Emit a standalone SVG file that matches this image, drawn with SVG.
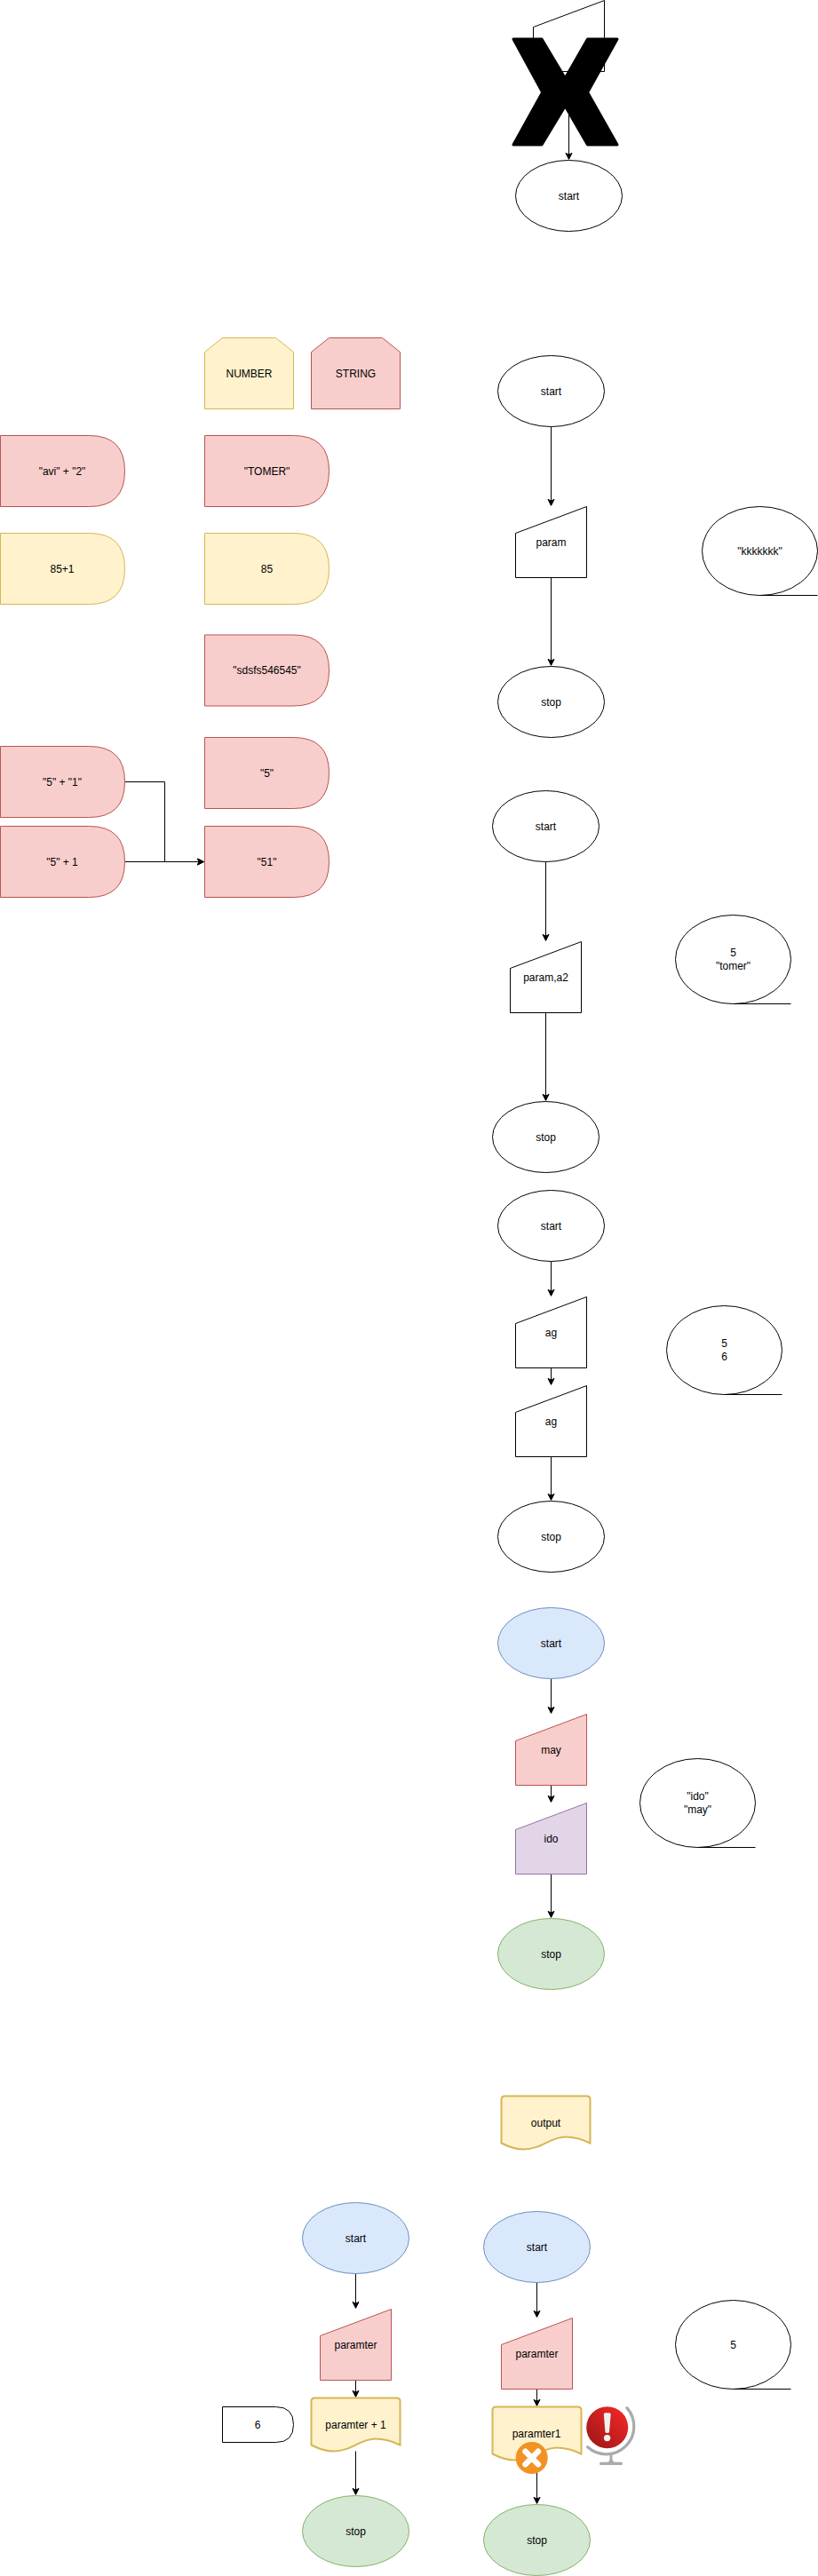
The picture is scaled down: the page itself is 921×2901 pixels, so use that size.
<svg xmlns="http://www.w3.org/2000/svg" width="921" height="2901" viewBox="0 0 921 2901">
<style>
text{font-family:"Liberation Sans",Arial,sans-serif;font-size:12px;fill:#000;text-anchor:middle}
.p{fill:#fff;stroke:#000;stroke-width:1}
.n{fill:none;stroke:#000;stroke-width:1}
.b{fill:#dae8fc;stroke:#6c8ebf;stroke-width:1}
.r{fill:#f8cecc;stroke:#b85450;stroke-width:1}
.y{fill:#fff2cc;stroke:#d6b656;stroke-width:1}
.g{fill:#d5e8d4;stroke:#82b366;stroke-width:1}
.v{fill:#e1d5e7;stroke:#9673a6;stroke-width:1}
.d{fill:#fff2cc;stroke:#d6b656;stroke-width:2}
.e{fill:none;stroke:#000;stroke-width:1;marker-end:url(#arr)}
</style>
<defs>
<marker id="arr" markerUnits="userSpaceOnUse" markerWidth="12" markerHeight="12" viewBox="-4 -6 12 12" refX="0" refY="0" orient="auto" overflow="visible">
<path d="M5.25 0L-1.75 3.5L0 0L-1.75-3.5Z" fill="#000" stroke="#000" stroke-width="1"/>
</marker>
<linearGradient id="red" x1="0.15" y1="0.85" x2="0.85" y2="0.15">
<stop offset="0" stop-color="#a81818"/><stop offset="1" stop-color="#ea2626"/>
</linearGradient>
</defs>
<g id="connectors">
<path class="e" d="M640.5 80.5V174.13"/>
<path class="e" d="M620.5 480.5V564.13"/>
<path class="e" d="M620.5 650.5V744.13"/>
<path class="e" d="M614.5 970.5V1054.13"/>
<path class="e" d="M614.5 1140.5V1234.13"/>
<path class="e" d="M620.5 1420.5V1454.13"/>
<path class="e" d="M620.5 1540.5V1554.13"/>
<path class="e" d="M620.5 1640.5V1684.13"/>
<path class="e" d="M620.5 1890.5V1924.13"/>
<path class="e" d="M620.5 2010.5V2024.13"/>
<path class="e" d="M620.5 2110.5V2154.13"/>
<path class="e" d="M400.5 2560.5V2594.13"/>
<path class="e" d="M400.5 2680.5V2694.13"/>
<path class="e" d="M400.5 2760.5V2804.13"/>
<path class="e" d="M604.5 2570.5V2604.13"/>
<path class="e" d="M604.5 2690.5V2704.13"/>
<path class="e" d="M604.5 2770.5V2814.13"/>
<path class="e" d="M140.5 880.5H185.5V970.5H224.13"/>
<path class="e" d="M140.5 970.5H224.13"/>
</g>
<g id="top-input"><path class="p" d="M600.5 30.5L680.5 .5V80.5H600.5Z"/></g>
<g id="x-mark"><path d="M578 44H610L636.3 88L661.5 44H695L661.6 104L695 163H661.5L636.3 119.5L610 163H578L610.7 104Z" fill="#000" stroke="#000" stroke-width="3" stroke-linejoin="round"/></g>
<g id="top-start"><ellipse class="p" cx="640.5" cy="220.5" rx="60" ry="40"/><text x="640.5" y="224.5">start</text></g>

<g id="number"><path class="y" d="M230.5 396.5L250.5 380.5H310.5L330.5 396.5V460.5H230.5Z"/><text x="280.5" y="424.5">NUMBER</text></g>
<g id="string"><path class="r" d="M350.5 396.5L370.5 380.5H430.5L450.5 396.5V460.5H350.5Z"/><text x="400.5" y="424.5">STRING</text></g>
<g id="avi"><path class="r" d="M.5 490.5H100.5Q140.5 490.5 140.5 530.5Q140.5 570.5 100.5 570.5H.5Z"/><text x="70" y="534.5">"avi" + "2"</text></g>
<g id="tomer"><path class="r" d="M230.5 490.5H330.5Q370.5 490.5 370.5 530.5Q370.5 570.5 330.5 570.5H230.5Z"/><text x="300.5" y="534.5">"TOMER"</text></g>
<g id="n85p1"><path class="y" d="M.5 600.5H100.5Q140.5 600.5 140.5 640.5Q140.5 680.5 100.5 680.5H.5Z"/><text x="70" y="644.5">85+1</text></g>
<g id="n85"><path class="y" d="M230.5 600.5H330.5Q370.5 600.5 370.5 640.5Q370.5 680.5 330.5 680.5H230.5Z"/><text x="300.5" y="644.5">85</text></g>
<g id="sdsfs"><path class="r" d="M230.5 715H330.5Q370.5 715 370.5 755Q370.5 795 330.5 795H230.5Z"/><text x="300.5" y="759">"sdsfs546545"</text></g>
<g id="s5"><path class="r" d="M230.5 830.5H330.5Q370.5 830.5 370.5 870.5Q370.5 910.5 330.5 910.5H230.5Z"/><text x="300.5" y="874.5">"5"</text></g>
<g id="s51"><path class="r" d="M230.5 930.5H330.5Q370.5 930.5 370.5 970.5Q370.5 1010.5 330.5 1010.5H230.5Z"/><text x="300.5" y="974.5">"51"</text></g>
<g id="s5s1"><path class="r" d="M.5 840.5H100.5Q140.5 840.5 140.5 880.5Q140.5 920.5 100.5 920.5H.5Z"/><text x="70" y="884.5">"5" + "1"</text></g>
<g id="s5n1"><path class="r" d="M.5 930.5H100.5Q140.5 930.5 140.5 970.5Q140.5 1010.5 100.5 1010.5H.5Z"/><text x="70" y="974.5">"5" + 1</text></g>

<g id="a-start"><ellipse class="p" cx="620.5" cy="440.5" rx="60" ry="40"/><text x="620.5" y="444.5">start</text></g>
<g id="a-param"><path class="p" d="M580.5 600.5L660.5 570.5V650.5H580.5Z"/><text x="620.5" y="614.5">param</text></g>
<g id="a-stop"><ellipse class="p" cx="620.5" cy="790.5" rx="60" ry="40"/><text x="620.5" y="794.5">stop</text></g>
<g id="a-value"><ellipse class="p" cx="855.5" cy="620.5" rx="65" ry="50"/><path class="n" d="M855.5 670.5H920.5"/><text x="855.5" y="624.5">"kkkkkkk"</text></g>

<g id="b-start"><ellipse class="p" cx="614.5" cy="930.5" rx="60" ry="40"/><text x="614.5" y="934.5">start</text></g>
<g id="b-param"><path class="p" d="M574.5 1090.5L654.5 1060.5V1140.5H574.5Z"/><text x="614.5" y="1104.5">param,a2</text></g>
<g id="b-stop"><ellipse class="p" cx="614.5" cy="1280.5" rx="60" ry="40"/><text x="614.5" y="1284.5">stop</text></g>
<g id="b-value"><ellipse class="p" cx="825.5" cy="1080.5" rx="65" ry="50"/><path class="n" d="M825.5 1130.5H890.5"/><text x="825.5" y="1077">5</text><text x="825.5" y="1091.5">"tomer"</text></g>

<g id="c-start"><ellipse class="p" cx="620.5" cy="1380.5" rx="60" ry="40"/><text x="620.5" y="1384.5">start</text></g>
<g id="c-ag1"><path class="p" d="M580.5 1490.5L660.5 1460.5V1540.5H580.5Z"/><text x="620.5" y="1504.5">ag</text></g>
<g id="c-ag2"><path class="p" d="M580.5 1590.5L660.5 1560.5V1640.5H580.5Z"/><text x="620.5" y="1604.5">ag</text></g>
<g id="c-stop"><ellipse class="p" cx="620.5" cy="1730.5" rx="60" ry="40"/><text x="620.5" y="1734.5">stop</text></g>
<g id="c-value"><ellipse class="p" cx="815.5" cy="1520.5" rx="65" ry="50"/><path class="n" d="M815.5 1570.5H880.5"/><text x="815.5" y="1517">5</text><text x="815.5" y="1531.5">6</text></g>

<g id="d-start"><ellipse class="b" cx="620.5" cy="1850.5" rx="60" ry="40"/><text x="620.5" y="1854.5">start</text></g>
<g id="d-may"><path class="r" d="M580.5 1960.5L660.5 1930.5V2010.5H580.5Z"/><text x="620.5" y="1974.5">may</text></g>
<g id="d-ido"><path class="v" d="M580.5 2060.5L660.5 2030.5V2110.5H580.5Z"/><text x="620.5" y="2074.5">ido</text></g>
<g id="d-stop"><ellipse class="g" cx="620.5" cy="2200.5" rx="60" ry="40"/><text x="620.5" y="2204.5">stop</text></g>
<g id="d-value"><ellipse class="p" cx="785.5" cy="2030.5" rx="65" ry="50"/><path class="n" d="M785.5 2080.5H850.5"/><text x="785.5" y="2027">"ido"</text><text x="785.5" y="2041.5">"may"</text></g>

<g id="output"><path class="d" d="M564.5 2364.5Q564.5 2360.5 568.5 2360.5H660.5Q664.5 2360.5 664.5 2364.5V2413.5C654.5 2408.5 644.5 2406.5 636.5 2406.5C619.5 2406.5 609.5 2420.5 589.5 2420.5C579.5 2420.5 572.5 2417.5 564.5 2413.5Z"/><text x="614.5" y="2394.5">output</text></g>

<g id="e-start"><ellipse class="b" cx="400.5" cy="2520.5" rx="60" ry="40"/><text x="400.5" y="2524.5">start</text></g>
<g id="e-param"><path class="r" d="M360.5 2630.5L440.5 2600.5V2680.5H360.5Z"/><text x="400.5" y="2644.5">paramter</text></g>
<g id="e-doc"><path class="d" d="M350.5 2704.5Q350.5 2700.5 354.5 2700.5H446.5Q450.5 2700.5 450.5 2704.5V2753.5C440.5 2748.5 430.5 2746.5 422.5 2746.5C405.5 2746.5 395.5 2760.5 375.5 2760.5C365.5 2760.5 358.5 2757.5 350.5 2753.5Z"/><text x="400.5" y="2734.5">paramter + 1</text></g>
<g id="e-six"><path class="p" d="M250.5 2710.5H310.5Q330.5 2710.5 330.5 2730.5Q330.5 2750.5 310.5 2750.5H250.5Z"/><text x="290" y="2734.5">6</text></g>
<g id="e-stop"><ellipse class="g" cx="400.5" cy="2850.5" rx="60" ry="40"/><text x="400.5" y="2854.5">stop</text></g>

<g id="f-start"><ellipse class="b" cx="604.5" cy="2530.5" rx="60" ry="40"/><text x="604.5" y="2534.5">start</text></g>
<g id="f-param"><path class="r" d="M564.5 2640.5L644.5 2610.5V2690.5H564.5Z"/><text x="604.5" y="2654.5">paramter</text></g>
<g id="f-doc"><path class="d" d="M554.5 2714.5Q554.5 2710.5 558.5 2710.5H650.5Q654.5 2710.5 654.5 2714.5V2763.5C644.5 2758.5 634.5 2756.5 626.5 2756.5C609.5 2756.5 599.5 2770.5 579.5 2770.5C569.5 2770.5 562.5 2767.5 554.5 2763.5Z"/><text x="604" y="2744.5">paramter1</text></g>
<g id="f-stop"><ellipse class="g" cx="604.5" cy="2860.5" rx="60" ry="40"/><text x="604.5" y="2864.5">stop</text></g>
<g id="f-value"><ellipse class="p" cx="825.5" cy="2640.5" rx="65" ry="50"/><path class="n" d="M825.5 2690.5H890.5"/><text x="825.5" y="2644.5">5</text></g>

<g id="icon-cross">
<circle cx="598.7" cy="2768" r="18" fill="#f19223"/>
<path d="M591.5 2760.8L605.9 2775.2M605.9 2760.8L591.5 2775.2" fill="none" stroke="#fff" stroke-width="6.5" stroke-linecap="round"/>
</g>
<g id="icon-globe">
<path d="M705.8 2711.6A31.3 31.3 0 0 1 661.6 2755.8" fill="none" stroke="#aaa" stroke-width="3.2" stroke-linecap="round"/>
<path d="M686.5 2764.5H689.5V2769Q689.5 2772.7 693 2772.7H699.5Q701 2772.7 701 2774.4Q701 2776 699.5 2776H676.5Q675 2776 675 2774.4Q675 2772.7 676.5 2772.7H683Q686.5 2772.7 686.5 2769Z" fill="#aaa"/>
<circle cx="683.7" cy="2733.7" r="23.5" fill="url(#red)"/>
<path d="M681.5 2717.2H686Q687.8 2717.2 687.7 2719L686 2738.5Q685.8 2740 683.7 2740Q681.6 2740 681.4 2738.5L679.8 2719Q679.7 2717.2 681.5 2717.2Z" fill="#f0f0f0"/>
<circle cx="683.6" cy="2745.6" r="3.7" fill="#f0f0f0"/>
</g>
</svg>
